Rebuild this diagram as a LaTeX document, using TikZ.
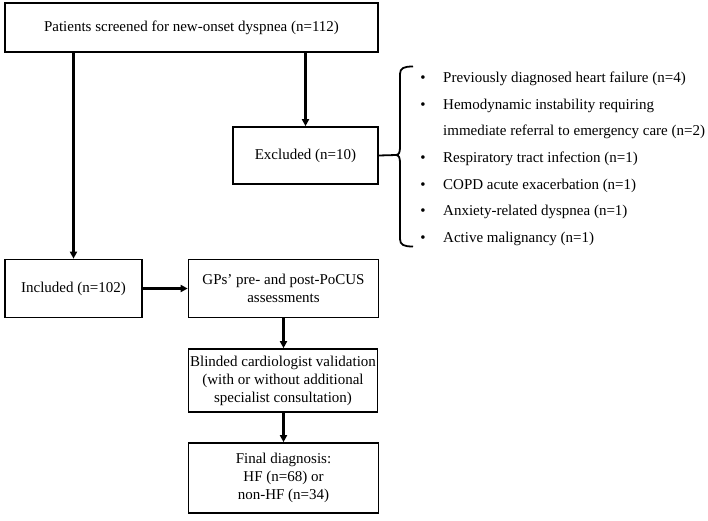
\documentclass[tikz,border=0pt]{standalone}
\usepackage{fontspec}
\setmainfont{Liberation Serif}
\usetikzlibrary{arrows.meta}
\begin{document}
\begin{tikzpicture}[x=1pt,y=-1pt,
  font=\fontsize{15}{18}\selectfont,
  box/.style={draw=black,line width=1.7pt,align=center,inner sep=0pt},
  arr/.style={line width=2.4pt,-{Triangle[length=7pt,width=7pt]}},
  item/.style={anchor=base west,inner sep=0pt},
  dot/.style={anchor=base,inner sep=0pt}]
\useasboundingbox[fill=white] (0,0) rectangle (708,520);

% boxes of the flow
\node[box,minimum width=373pt,minimum height=49pt] (top) at (191.5,27.5)
  {Patients screened for new-onset dyspnea (n=112)};
\node[box,minimum width=145pt,minimum height=57pt] (exc) at (305.5,155.5)
  {Excluded (n=10)};
\node[box,minimum width=137pt,minimum height=58pt] (inc) at (73.5,288.5)
  {Included (n=102)};
\node[box,minimum width=190pt,minimum height=58pt] (gps) at (283.5,288.5)
  {GPs’ pre- and post-PoCUS\\assessments};
\node[box,minimum width=189pt,minimum height=63pt] (bl) at (283,380.5)
  {Blinded cardiologist validation\\(with or without additional\\specialist consultation)};
\node[box,minimum width=190pt,minimum height=70pt] (fin) at (283.5,478)
  {Final diagnosis:\\HF (n=68) or\\non-HF (n=34)};

% connectors
\draw[arr] (inc.north |- top.south) -- (inc.north);
\draw[arr] (exc.north |- top.south) -- (exc.north);
\draw[arr] (inc.east) -- (gps.west);
\draw[arr] (gps.south) -- (gps.south |- bl.north);
\draw[arr] (gps.south |- bl.south) -- (fin.north);

% brace gathering the exclusion reasons
\coordinate (tip) at (396,155);
\draw[line width=1.8pt] (exc.east) -- (tip);
\draw[line width=1.8pt,line join=round]
  (413,66.5) .. controls (404,66.5) and (400,68) .. (400,74) -- (400,147)
  .. controls (400,152) and (399,155) .. (tip)
  .. controls (399,155) and (400,158) .. (400,163) -- (400,239)
  .. controls (400,245) and (404,246.5) .. (413,246.5);

% exclusion reasons
\foreach \n/\y in {1/77,2/104,4/157,5/184,6/210,7/237}
  \node[dot] (b\n) at (423,\y+5) {•};
\node[item] (r1) at (443,82) {Previously diagnosed heart failure (n=4)};
\node[item] (r2) at (443,109) {Hemodynamic instability requiring};
\node[item] (r3) at (443,135) {immediate referral to emergency care (n=2)};
\node[item] (r4) at (443,162) {Respiratory tract infection (n=1)};
\node[item] (r5) at (443,189) {COPD acute exacerbation (n=1)};
\node[item] (r6) at (443,215) {Anxiety-related dyspnea (n=1)};
\node[item] (r7) at (443,242) {Active malignancy (n=1)};
\end{tikzpicture}
\end{document}
